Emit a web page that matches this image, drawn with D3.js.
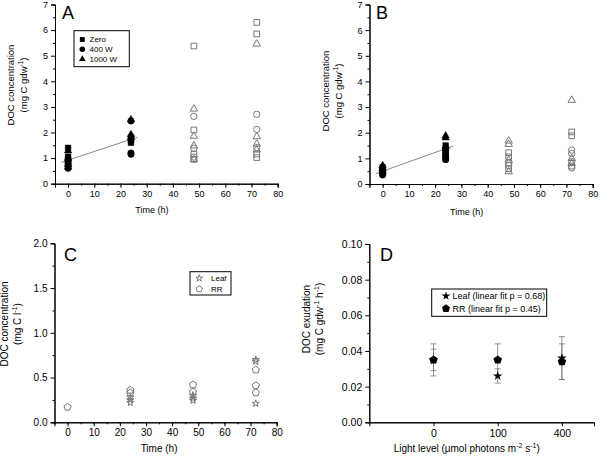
<!DOCTYPE html>
<html><head><meta charset="utf-8">
<script src="https://cdn.jsdelivr.net/npm/d3@7"></script>
<style>body{margin:0;background:#fff} text{font-family:"Liberation Sans",Arial,sans-serif;fill:#000}</style>
</head><body><svg id="c" width="600" height="458"></svg>
<script>
// ---------- DATA ----------
const timePoints = [0, 24, 48, 72];
// Panel A (DOC concentration, mg C gdw-1), values per time point
const A_zero  = [[1.40,1.05,0.95,0.85],[1.80,1.70,1.60],[5.38,2.10,1.16,0.95],[6.30,5.85,1.16,1.02]];
const A_400W  = [[0.60,0.70,0.78,0.88],[2.45,1.20,1.15],[2.63,1.38,1.04],[2.71,2.12,1.41]];
const A_1000W = [[1.28,1.00,0.75,0.65],[2.50,1.92,1.80],[2.92,1.86,1.48,0.95],[5.46,1.84,1.55,1.32]];
const A_fit = {intercept:0.92, slope:0.0338, from:-2.5, to:26.5};
// Panel B
const B_zero  = [[0.45,0.55,0.65],[1.00,1.20,1.35,1.50],[1.22,1.06,0.60],[2.03,1.88,0.70]];
const B_400W  = [[0.35,0.40,0.50,0.60],[0.95,1.05,1.15,1.30,1.40],[0.81,0.72],[1.32,1.19,0.87,0.63]];
const B_1000W = [[0.72,0.60,0.50],[1.88,1.80,1.45],[1.68,1.55,0.93,0.48],[3.27,1.00,0.80]];
const B_fit = {intercept:0.50, slope:0.0365, from:-2.5, to:27};
// Panel C (mg C l-1)
const C_leaf = [[],[0.28,0.25,0.22],[0.30,0.27,0.245],[0.70,0.68,0.21]];
const C_RR   = [[0.17],[0.36,0.33],[0.42,0.34],[0.585,0.41,0.33]];
// Panel D (DOC exudation)
const lightLevels = ["0","100","400"];
const D_leafMean = [0.035,0.026,0.036];
const D_leafErr  = [0.006,0.004,0.012];
const D_rrMean   = [0.035,0.035,0.034];
const D_rrErr    = [0.009,0.009,0.010];
const legendA = ["Zero","400 W","1000 W"];
const legendC = ["Leaf","RR"];
const legendD = ["Leaf (linear fit p = 0.68)","RR (linear fit p = 0.45)"];

// ---------- HELPERS ----------
const svg = d3.select("#c");
const pentagon = {draw(ctx, size){
  const r = Math.sqrt(size/2.378);
  for(let i=0;i<5;i++){const a=-Math.PI/2+i*2*Math.PI/5;
    const px=r*Math.cos(a), py=r*Math.sin(a); i?ctx.lineTo(px,py):ctx.moveTo(px,py);}
  ctx.closePath();}};
const symPath = (type,size)=>d3.symbol().type(type).size(size)();
const OPEN = "#777";

function axes(x, y, o){
  const gx = svg.append("g").attr("transform",`translate(0,${y.range()[0]})`);
  gx.call(d3.axisBottom(x).tickValues(o.xMinor).tickSize(2).tickFormat(""));
  const gx2 = svg.append("g").attr("transform",`translate(0,${y.range()[0]})`)
    .call(d3.axisBottom(x).tickValues(o.xTicks).tickSize(4).tickPadding(3).tickFormat(o.xFmt||d3.format("d")));
  gx2.selectAll("text").style("font-size",o.fs+"px");
  const gy = svg.append("g").attr("transform",`translate(${x.range()[0]},0)`);
  gy.call(d3.axisLeft(y).tickValues(o.yMinor).tickSize(2).tickFormat(""));
  const gy2 = svg.append("g").attr("transform",`translate(${x.range()[0]},0)`)
    .call(d3.axisLeft(y).tickValues(o.yTicks).tickSize(4).tickPadding(3).tickFormat(o.yFmt));
  gy2.selectAll("text").style("font-size",o.fs+"px");
  svg.selectAll(".domain").attr("stroke","#000");
  svg.selectAll(".tick line").attr("stroke","#000");
}
function scatter(x, y, series, type, size){
  series.forEach((vals,i)=>{
    const t = timePoints[i];
    vals.forEach(v=>{
      const filled = t<=24;
      svg.append("path").attr("d",symPath(type,size))
        .attr("transform",`translate(${x(t)},${y(v)})`)
        .attr("fill",filled?"#000":"none")
        .attr("stroke",filled?"#000":OPEN).attr("stroke-width",filled?0.5:1);
    });
  });
}
function openScatter(x,y,series,type,size){
  series.forEach((vals,i)=>{const t=timePoints[i];
    vals.forEach(v=>svg.append("path").attr("d",symPath(type,size))
      .attr("transform",`translate(${x(t)},${y(v)})`).attr("fill","none").attr("stroke",OPEN).attr("stroke-width",1));});
}
function fitLine(x,y,f){
  svg.append("line").attr("x1",x(f.from)).attr("x2",x(f.to))
    .attr("y1",y(f.intercept+f.slope*f.from)).attr("y2",y(f.intercept+f.slope*f.to))
    .attr("stroke","#8a8a8a").attr("stroke-width",1);
}
function yTitle(cx, cy, line1, line2parts, fs){
  const g = svg.append("g").attr("transform",`translate(${cx},${cy}) rotate(-90)`);
  g.append("text").attr("text-anchor","middle").attr("y",0).style("font-size",fs+"px").text(line1);
  const t = g.append("text").attr("text-anchor","middle").attr("y",fs+3).style("font-size",fs+"px");
  line2parts.forEach(p=>{
    if(p.sup) t.append("tspan").attr("dy",-4).style("font-size",(fs-3)+"px").text(p.t);
    else t.append("tspan").attr("dy",p.down?4:0).text(p.t);
  });
}
function letter(x,y,s){svg.append("text").attr("x",x).attr("y",y).style("font-size","18px").text(s);}

const yFmtA = d3.format("d");
// ---------- PANEL A ----------
const xA = d3.scaleLinear().domain([-5,80]).range([55,277.7]);
const yA = d3.scaleLinear().domain([0,7]).range([183.7,4.5]);
axes(xA,yA,{xTicks:d3.range(0,81,10), xMinor:d3.range(-5,81,5), yTicks:d3.range(0,8), yMinor:d3.range(0.5,7,1), yFmt:yFmtA, fs:9});
fitLine(xA,yA,A_fit);
scatter(xA,yA,A_zero,d3.symbolSquare,32);
scatter(xA,yA,A_400W,d3.symbolCircle,32);
scatter(xA,yA,A_1000W,d3.symbolTriangle,24);
letter(62,19,"A");
svg.append("rect").attr("x",74).attr("y",30.7).attr("width",55.3).attr("height",36).attr("fill","none").attr("stroke","#000");
[d3.symbolSquare,d3.symbolCircle,d3.symbolTriangle].forEach((s,i)=>{
  svg.append("path").attr("d",symPath(s,i==2?20:24)).attr("transform",`translate(82.3,${39.5+i*9.8})`).attr("fill","#000");
  svg.append("text").attr("x",89.5).attr("y",42.3+i*9.8).style("font-size","8px").text(legendA[i]);
});
svg.append("text").attr("x",xA(32)).attr("y",213).attr("text-anchor","middle").style("font-size","9px").text("Time (h)");
yTitle(14,85,"DOC concentration",[{t:"(mg C gdw"},{t:"-1",sup:true},{t:")",down:true}],9.5);

// ---------- PANEL B ----------
const xB = d3.scaleLinear().domain([-5,80]).range([369.5,592.7]);
const yB = d3.scaleLinear().domain([0,7]).range([184,4.5]);
axes(xB,yB,{xTicks:d3.range(0,81,10), xMinor:d3.range(-5,81,5), yTicks:d3.range(0,8), yMinor:d3.range(0.5,7,1), yFmt:yFmtA, fs:9});
fitLine(xB,yB,B_fit);
scatter(xB,yB,B_zero,d3.symbolSquare,32);
scatter(xB,yB,B_400W,d3.symbolCircle,32);
scatter(xB,yB,B_1000W,d3.symbolTriangle,24);
letter(376,19,"B");
svg.append("text").attr("x",xB(32)).attr("y",215).attr("text-anchor","middle").style("font-size","9px").text("Time (h)");
yTitle(329,91,"DOC concentration",[{t:"(mg C gdw"},{t:"-1",sup:true},{t:")",down:true}],9.5);

// ---------- PANEL C ----------
const xC = d3.scaleLinear().domain([-5,80]).range([54.5,276.7]);
const yC = d3.scaleLinear().domain([0,2]).range([422.3,243.3]);
axes(xC,yC,{xTicks:d3.range(0,81,10), xMinor:d3.range(-5,81,5), yTicks:[0,0.5,1,1.5,2], yMinor:[0.25,0.75,1.25,1.75], yFmt:d3.format(".1f"), fs:10});
openScatter(xC,yC,C_leaf,d3.symbolStar,16);
openScatter(xC,yC,C_RR,pentagon,34);
letter(64,261,"C");
svg.append("rect").attr("x",190).attr("y",271.7).attr("width",41).attr("height",23.3).attr("fill","none").attr("stroke","#000");
[d3.symbolStar,pentagon].forEach((s,i)=>{
  svg.append("path").attr("d",symPath(s,i?26:14)).attr("transform",`translate(199.3,${278.3+i*10.7})`).attr("fill","none").attr("stroke",OPEN);
  svg.append("text").attr("x",211).attr("y",281.3+i*10.7).style("font-size","8px").text(legendC[i]);
});
svg.append("text").attr("x",xC(35)).attr("y",452).attr("text-anchor","middle").style("font-size","10px").text("Time (h)");
yTitle(8,324,"DOC concentration",[{t:"(mg C l"},{t:"-1",sup:true},{t:")",down:true}],10);

// ---------- PANEL D ----------
const xD = d3.scaleLinear().domain([-1,2.5]).range([369.3,594]);
const yD = d3.scaleLinear().domain([0,0.1]).range([422.3,244]);
axes(xD,yD,{xTicks:[0,1,2], xMinor:[], xFmt:i=>lightLevels[i], yTicks:d3.range(0,0.101,0.02), yMinor:d3.range(0.01,0.1,0.02), yFmt:d3.format(".2f"), fs:10.5});
function errBars(means, errs){
  means.forEach((m,i)=>{
    const cx=xD(i), lo=yD(m-errs[i]), hi=yD(m+errs[i]);
    svg.append("line").attr("x1",cx).attr("x2",cx).attr("y1",lo).attr("y2",hi).attr("stroke","#777").attr("stroke-width",0.8);
    [lo,hi].forEach(yy=>svg.append("line").attr("x1",cx-3).attr("x2",cx+3).attr("y1",yy).attr("y2",yy).attr("stroke","#777").attr("stroke-width",0.8));
  });
}
errBars(D_rrMean,D_rrErr);
errBars(D_leafMean,D_leafErr);
D_rrMean.forEach((m,i)=>svg.append("path").attr("d",symPath(pentagon,48)).attr("transform",`translate(${xD(i)},${yD(m)})`).attr("fill","#000"));
D_leafMean.forEach((m,i)=>svg.append("path").attr("d",symPath(d3.symbolStar,28)).attr("transform",`translate(${xD(i)},${yD(m)})`).attr("fill","#000"));
letter(380,261,"D");
svg.append("rect").attr("x",431.7).attr("y",289).attr("width",115).attr("height",27.3).attr("fill","none").attr("stroke","#000");
[d3.symbolStar,pentagon].forEach((s,i)=>{
  svg.append("path").attr("d",symPath(s,i?42:24)).attr("transform",`translate(446,${296+i*12.5})`).attr("fill","#000");
  svg.append("text").attr("x",452.5).attr("y",299.3+i*12.5).style("font-size","9px").text(legendD[i]);
});
const xt = svg.append("text").attr("x",466.7).attr("y",452).attr("text-anchor","middle").style("font-size","10px");
xt.append("tspan").text("Light level (\u03bcmol photons m");
xt.append("tspan").attr("dy",-4).style("font-size","7px").text("-2");
xt.append("tspan").attr("dy",4).text(" s");
xt.append("tspan").attr("dy",-4).style("font-size","7px").text("-1");
xt.append("tspan").attr("dy",4).text(")");
yTitle(310,319,"DOC exudation",[{t:"(mg C gdw"},{t:"-1",sup:true},{t:" h",down:true},{t:"-1",sup:true},{t:")",down:true}],10);
</script></body></html>
